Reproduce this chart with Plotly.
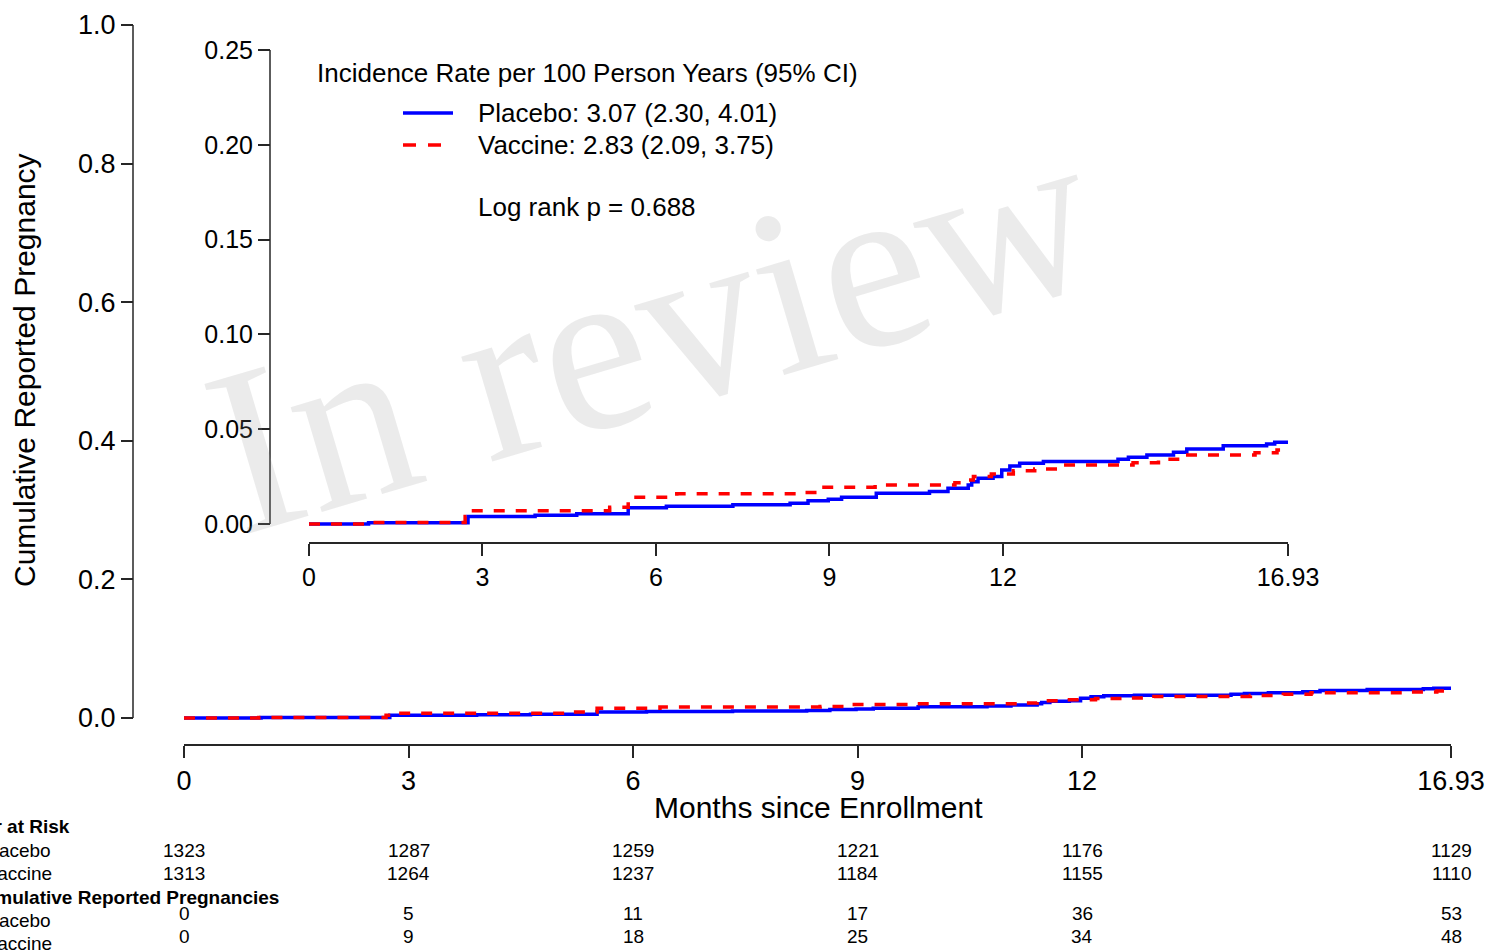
import plotly.graph_objects as go

# ---------------- data ----------------
months_placebo = [0, 1.03, 2.75, 3.91, 4.63, 5.52, 6.18, 7.33, 8.32, 8.63, 8.98, 9.21, 9.81,
                  10.73, 11.05, 11.40, 11.46, 11.57, 11.83, 11.98, 12.12, 12.29, 12.70,
                  13.99, 14.17, 14.49, 14.95, 15.18, 15.81, 16.56, 16.70, 16.93]
cum_placebo = [0, 0.0006, 0.0039, 0.0046, 0.0054, 0.0086, 0.0093, 0.0101, 0.0109, 0.0123,
               0.0130, 0.0141, 0.0162, 0.0172, 0.0188, 0.0206, 0.0223, 0.0241, 0.0250,
               0.0285, 0.0306, 0.0320, 0.0329, 0.0341, 0.0352, 0.0364, 0.0378, 0.0396,
               0.0413, 0.0422, 0.0431, 0.0431]

months_vaccine = [0, 1.00, 2.70, 2.78, 5.20, 5.52, 6.36, 8.50, 8.84, 9.79, 11.17, 11.40,
                  11.49, 11.80, 12.18, 12.55, 12.96, 14.25, 14.69, 15.06, 16.36, 16.74, 16.93]
cum_vaccine = [0, 0.0008, 0.0040, 0.0070, 0.0088, 0.0141, 0.0160, 0.0166, 0.0194, 0.0206,
               0.0218, 0.0232, 0.0250, 0.0264, 0.0281, 0.0290, 0.0311, 0.0323, 0.0341,
               0.0364, 0.0376, 0.0390, 0.0390]

x_ticks = [0, 3, 6, 9, 12, 16.93]
x_ticktext = ["0", "3", "6", "9", "12", "16.93"]
main_y_ticks = [0, 0.2, 0.4, 0.6, 0.8, 1.0]
inset_y_ticks = [0, 0.05, 0.10, 0.15, 0.20, 0.25]

risk_placebo = [1323, 1287, 1259, 1221, 1176, 1129]
risk_vaccine = [1313, 1264, 1237, 1184, 1155, 1110]
preg_placebo = [0, 5, 11, 17, 36, 53]
preg_vaccine = [0, 9, 18, 25, 34, 48]

legend_title = "Incidence Rate per 100 Person Years (95% CI)"
label_placebo = "Placebo: 3.07 (2.30, 4.01)"
label_vaccine = "Vaccine: 2.83 (2.09, 3.75)"
logrank_text = "Log rank p = 0.688"

# ---------------- layout helpers ----------------
W, H = 1490, 951
FONT = "Liberation Sans, Arial, sans-serif"
BLUE = "#0000FF"
RED = "#FF0000"
AXC = "#262626"
LW = 3.5
DASH = "11px,11px"


def px(x):
    return x / W


def py(y):
    return 1 - y / H


def ydomain(y0px, y1px, lo, hi, rlo, rhi):
    # value lo at pixel y0px, value hi at pixel y1px; range [rlo, rhi]
    per = (y0px - y1px) / (hi - lo)
    bottom = y0px + (lo - rlo) * per
    top = y1px - (rhi - hi) * per
    return [py(bottom), py(top)]


main_range = [-0.02, 1.01]
inset_range = [-0.004, 0.253]

fig = go.Figure()

# main curves
fig.add_trace(go.Scatter(x=months_placebo, y=cum_placebo, mode="lines", line_shape="hv",
                         line=dict(color=BLUE, width=LW), xaxis="x", yaxis="y",
                         showlegend=False, name="Placebo"))
fig.add_trace(go.Scatter(x=months_vaccine, y=cum_vaccine, mode="lines", line_shape="hv",
                         line=dict(color=RED, width=LW, dash=DASH), xaxis="x", yaxis="y",
                         showlegend=False, name="Vaccine"))
# inset curves
fig.add_trace(go.Scatter(x=months_placebo, y=cum_placebo, mode="lines", line_shape="hv",
                         line=dict(color=BLUE, width=LW), xaxis="x2", yaxis="y2",
                         showlegend=False, name="Placebo"))
fig.add_trace(go.Scatter(x=months_vaccine, y=cum_vaccine, mode="lines", line_shape="hv",
                         line=dict(color=RED, width=LW, dash=DASH), xaxis="x2", yaxis="y2",
                         showlegend=False, name="Vaccine"))

axis_common = dict(showgrid=False, zeroline=False, ticks="outside", ticklen=12,
                   tickwidth=1.5, tickcolor=AXC, linecolor=AXC, linewidth=1.5,
                   automargin=False)

fig.update_layout(
    width=W, height=H,
    margin=dict(l=0, r=0, t=0, b=0, pad=0, autoexpand=False),
    paper_bgcolor="white", plot_bgcolor="rgba(0,0,0,0)",
    font=dict(family=FONT, color="black"),
    xaxis=dict(domain=[px(184), px(1451)], range=[0, 16.93], anchor="free",
               position=py(745), showline=True, tickvals=x_ticks, ticktext=x_ticktext,
               tickfont=dict(size=27), **axis_common),
    yaxis=dict(domain=ydomain(718, 25, 0, 1, *main_range), range=main_range,
               anchor="free", position=px(133), showline=False,
               tickvals=main_y_ticks, tickformat=".1f", tickfont=dict(size=27),
               **axis_common),
    xaxis2=dict(domain=[px(309), px(1288)], range=[0, 16.93], anchor="free",
                position=py(543), showline=True, tickvals=x_ticks, ticktext=x_ticktext,
                tickfont=dict(size=25), **axis_common),
    yaxis2=dict(domain=ydomain(524, 50, 0, 0.25, *inset_range), range=inset_range,
                anchor="free", position=px(270), showline=False,
                tickvals=inset_y_ticks, tickformat=".2f", tickfont=dict(size=25),
                **axis_common),
)

# y-axis lines spanning only the tick range (R style)
fig.add_shape(type="line", xref="paper", yref="y", x0=px(133), x1=px(133),
              y0=main_y_ticks[0], y1=main_y_ticks[-1], line=dict(color=AXC, width=1.5))
fig.add_shape(type="line", xref="paper", yref="y2", x0=px(270), x1=px(270),
              y0=inset_y_ticks[0], y1=inset_y_ticks[-1], line=dict(color=AXC, width=1.5))

# legend keys
fig.add_shape(type="line", xref="paper", yref="paper", x0=px(403), x1=px(453),
              y0=py(113), y1=py(113), line=dict(color=BLUE, width=LW))
fig.add_shape(type="line", xref="paper", yref="paper", x0=px(403), x1=px(445),
              y0=py(145), y1=py(145), line=dict(color=RED, width=LW, dash="13px,12px"))

ann = []


def text(x, y, s, size, anchor="left", bold=False, color="black", xref="paper", angle=0):
    ann.append(dict(x=x, y=y, xref=xref, yref="paper", text=("<b>%s</b>" % s) if bold else s,
                    showarrow=False, xanchor=anchor, yanchor="middle", textangle=angle,
                    font=dict(family=FONT, size=size, color=color)))


# watermark
ann.append(dict(x=px(651), y=py(330), xref="paper", yref="paper", text="In review",
                showarrow=False, xanchor="center", yanchor="middle", textangle=-16.5,
                font=dict(family="Liberation Serif, Times New Roman, serif", size=238,
                          color="rgba(150,150,150,0.19)")))

# legend texts
text(px(315), py(73), legend_title, 26)
text(px(476), py(113), label_placebo, 26)
text(px(476), py(145), label_vaccine, 26)
text(px(476), py(207), logrank_text, 26)

# axis titles
text(px(818), py(807), "Months since Enrollment", 30, anchor="center")
text(px(24), py(370), "Cumulative Reported Pregnancy", 30, anchor="center", angle=-90)

# risk table
text(px(-72), py(826), "Number at Risk", 19, bold=True)
text(px(-20), py(850), "Placebo", 19)
text(px(-16), py(873), "Vaccine", 19)
text(px(-32), py(897), "Cumulative Reported Pregnancies", 19, bold=True)
text(px(-20), py(920), "Placebo", 19)
text(px(-16), py(943), "Vaccine", 19)
for xv, a, b, c, d in zip(x_ticks, risk_placebo, risk_vaccine, preg_placebo, preg_vaccine):
    text(xv, py(850), str(a), 19, anchor="center", xref="x")
    text(xv, py(873), str(b), 19, anchor="center", xref="x")
    text(xv, py(913), str(c), 19, anchor="center", xref="x")
    text(xv, py(936), str(d), 19, anchor="center", xref="x")

fig.update_layout(annotations=ann)

fig.write_html("out.html", config={"displayModeBar": False},
               post_script="document.body.style.margin='0';document.body.style.overflow='hidden';")
